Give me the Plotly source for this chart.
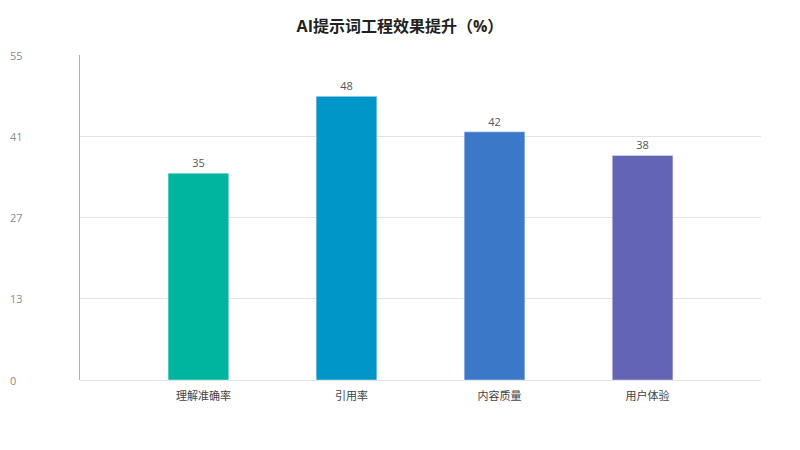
import plotly.graph_objects as go

categories = ["理解准确率", "引用率", "内容质量", "用户体验"]
values = [35, 48, 42, 38]
bar_colors = ["#00b5a0", "#0096c8", "#3b78c8", "#6464b4"]
tick_vals = [0, 13.75, 27.5, 41.25, 55]
tick_labels = ["0", "13", "27", "41", "55"]

font_stack = "Open Sans, Noto Sans CJK SC, sans-serif"

fig = go.Figure()
fig.add_trace(go.Bar(
    x=categories,
    y=values,
    marker_color=bar_colors,
    width=0.41,
    text=[str(v) for v in values],
    textposition="outside",
    textfont=dict(size=11, color="#555555"),
    cliponaxis=False,
    hoverinfo="x+y",
))

# y tick labels sit flush left at the page edge
for v, t in zip(tick_vals, tick_labels):
    fig.add_annotation(
        x=0, xref="paper", xshift=-72, xanchor="left",
        y=v, yref="y", text=t, showarrow=False,
        font=dict(size=11, color="#8a8a8a"),
    )

# page body adds ~8px offset, so margins are trimmed to compensate
fig.update_layout(
    width=800, height=450,
    margin=dict(l=72, r=47, t=47, b=78),
    paper_bgcolor="white", plot_bgcolor="white",
    font=dict(family=font_stack),
    showlegend=False,
    title=dict(
        text="<b>AI提示词工程效果提升（%）</b>",
        x=0.49, xanchor="center", y=0.96, yanchor="middle",
        font=dict(size=16, color="#222222"),
    ),
    xaxis=dict(
        range=[-0.8, 3.8],
        showgrid=False, zeroline=False, showline=False,
        ticks="", tickfont=dict(size=11, color="#444444"),
        ticklabelstandoff=8, ticklabelshift=5,
    ),
    yaxis=dict(
        range=[0, 55],
        tickvals=tick_vals, showticklabels=False,
        showgrid=True, gridcolor="#e3e3e3", gridwidth=1,
        zeroline=True, zerolinecolor="#e3e3e3", zerolinewidth=1,
        showline=True, linecolor="#b0b0b0", linewidth=1,
        ticks="",
    ),
)

fig.write_html("out.html")
